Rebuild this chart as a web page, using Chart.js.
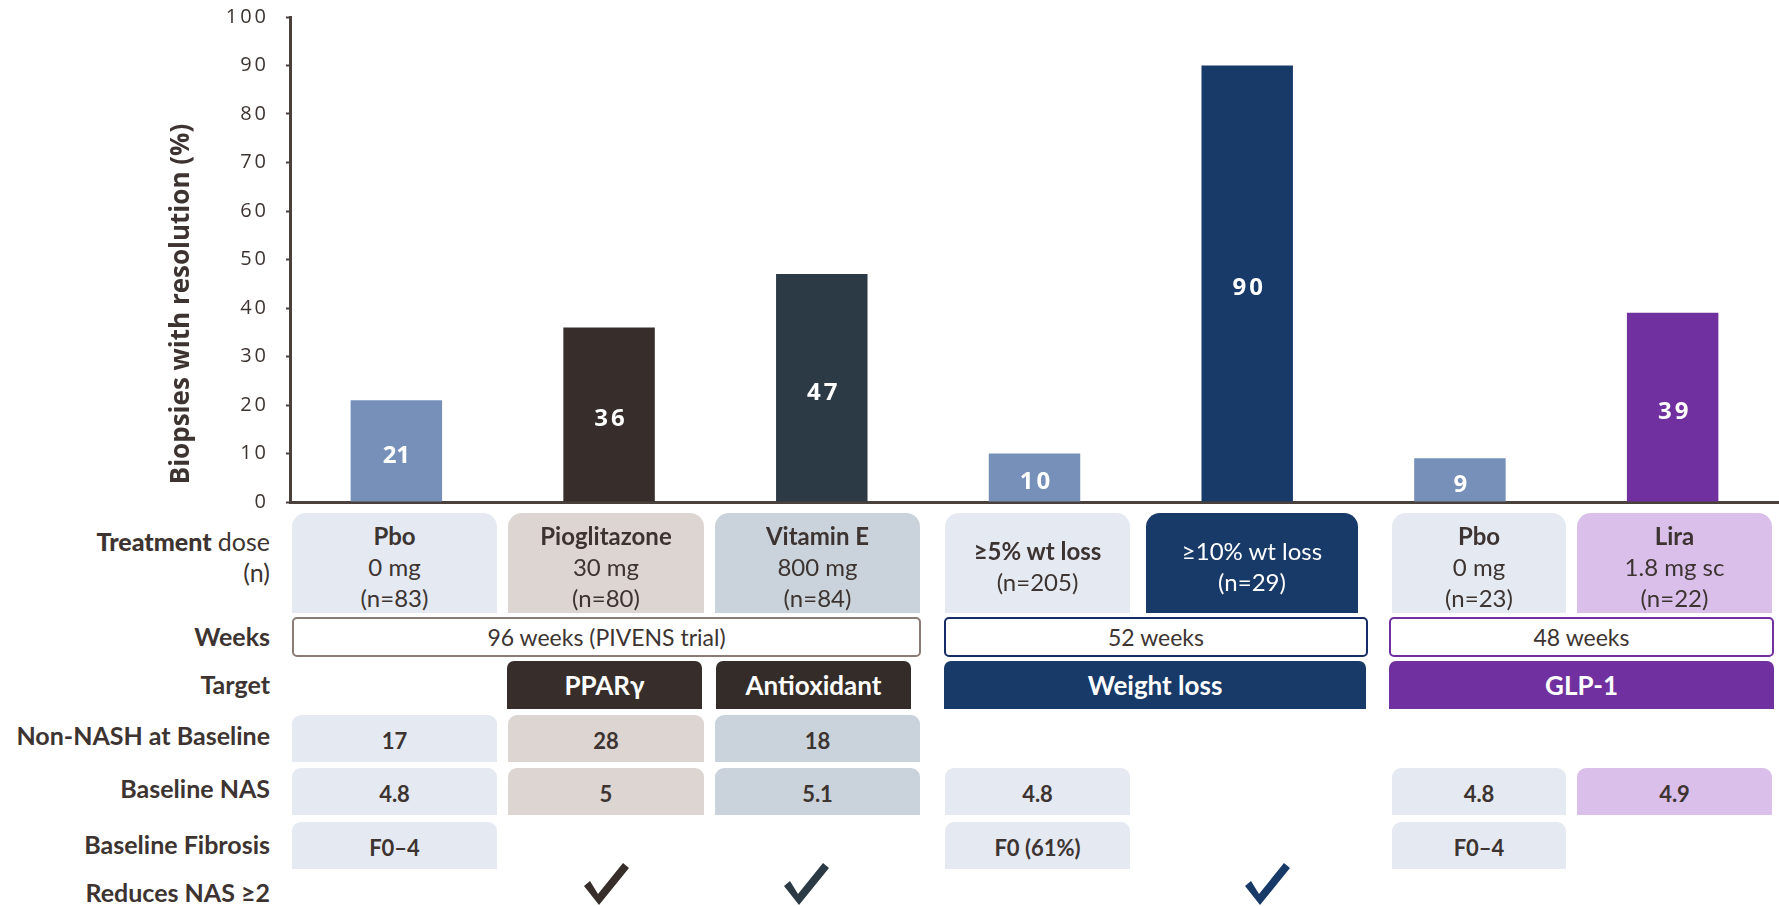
<!DOCTYPE html>
<html>
<head>
<meta charset="utf-8">
<script src="https://cdn.jsdelivr.net/npm/chart.js@4.4.1/dist/chart.umd.min.js"></script>
<style>
  body { margin: 0; background: #fff; }
  #page { position: relative; width: 1779px; height: 906px; overflow: hidden;
          font-family: Lato, "Open Sans", sans-serif; color: #3d3431; }
  #chartBox { position: absolute; left: 0; top: 0; width: 1779px; height: 520px; }
  .box { position: absolute; box-sizing: border-box; display: flex; align-items: center;
         justify-content: center; text-align: center; }
  .rowLabel { position: absolute; left: 0; width: 270px; text-align: right; font-weight: bold;
              font-size: 25px; line-height: 31px; }
  .check { position: absolute; width: 45px; height: 42px; }
</style>
</head>
<body>
<div id="page">
  <div id="chartBox"><canvas id="nashChart"></canvas></div>
</div>
<script>
// bars
const groups = ["Pbo", "Pioglitazone", "Vitamin E", "≥5% wt loss", "≥10% wt loss", "Pbo", "Lira"];
const resolution = [21, 36, 47, 10, 90, 9, 39];
const barColors = ["#7690ba", "#372e2b", "#2c3a45", "#7690ba", "#183a69", "#7690ba", "#7030a0"];
const yTicks = [0, 10, 20, 30, 40, 50, 60, 70, 80, 90, 100];

// table under the bars
const doses = ["0 mg", "30 mg", "800 mg", "", "", "0 mg", "1.8 mg sc"];
const nCounts = ["(n=83)", "(n=80)", "(n=84)", "(n=205)", "(n=29)", "(n=23)", "(n=22)"];
const weeks = ["96 weeks (PIVENS trial)", "52 weeks", "48 weeks"];
const targets = ["", "PPARγ", "Antioxidant", "Weight loss", "GLP-1"];
const nonNash = ["17", "28", "18", "", "", "", ""];
const baselineNas = ["4.8", "5", "5.1", "4.8", "", "4.8", "4.9"];
const baselineFibrosis = ["F0–4", "", "", "F0 (61%)", "", "F0–4", ""];
const reducesNas = [false, true, true, false, true, false, false];
const rowLabels = ["<b>Treatment</b> <span style='font-weight:normal'>dose</span><br><span style='font-weight:normal'>(n)</span>",
  "Weeks", "Target", "Non-NASH at Baseline", "Baseline NAS", "Baseline Fibrosis", "Reduces NAS ≥2"];

// layout (pixels)
const colX = [292, 508, 715, 945, 1146, 1392, 1577];
const colW = [205, 196, 205, 185, 212, 174, 195];
const cellBg = ["#e4e9f2", "#dcd5d2", "#cad3db", "#e4e9f2", "#183a69", "#e4e9f2", "#d9bfea"];
const weekSpans = [[292, 921, "#8a7b75"], [944, 1368, "#152c64"], [1389, 1774, "#7030a0"]];
const targetSpans = [null, [507, 702, "#372e2b"], [716, 911, "#342c29"], [944, 1366, "#183a69"], [1389, 1774, "#7030a0"]];
const checkColors = ["#372e2b", "#372e2b", "#2c3a45", "#183a69", "#183a69", "#7030a0", "#7030a0"];
const checkX = [397, 606, 806, 1034, 1267, 1459, 1673];
const labelY = [526, 621, 669, 720, 773, 829, 877];

const page = document.getElementById("page");

function addBox(left, top, width, height, html, css) {
    const d = document.createElement("div");
    d.className = "box";
    d.style.left = left + "px";
    d.style.top = top + "px";
    d.style.width = width + "px";
    d.style.height = height + "px";
    Object.assign(d.style, css || {});
    d.innerHTML = html;
    page.appendChild(d);
    return d;
}

rowLabels.forEach((txt, i) => {
    const d = document.createElement("div");
    d.className = "rowLabel";
    d.style.top = labelY[i] + "px";
    d.innerHTML = txt;
    page.appendChild(d);
});

// treatment row
groups.forEach((g, i) => {
    const dark = i === 4;
    let html = "<div style='line-height:31px'><b>" + g + "</b>";
    if (doses[i]) html += "<br>" + doses[i];
    html += "<br>" + nCounts[i] + "</div>";
    if (dark) html = html.replace(/<\/?b>/g, "");
    addBox(colX[i], 513, colW[i], 100, html, {
        background: cellBg[i], borderRadius: "14px 14px 0 0", fontSize: "24px",
        color: dark ? "#fff" : "#3d3431", paddingTop: "6px"
    });
});

weekSpans.forEach((s, i) => {
    addBox(s[0], 617, s[1] - s[0], 40, weeks[i], {
        border: "2px solid " + s[2], borderRadius: "5px", fontSize: "23px", background: "#fff"
    });
});

targetSpans.forEach((s, i) => {
    if (!s) return;
    addBox(s[0], 661, s[1] - s[0], 48, targets[i], {
        background: s[2], color: "#fff", fontWeight: "bold", fontSize: "26px",
        borderRadius: "7px 7px 0 0"
    });
});

function valueRow(values, top) {
    values.forEach((v, i) => {
        if (!v) return;
        addBox(colX[i], top, colW[i], 47, v, {
            background: cellBg[i], fontWeight: "bold", fontSize: "22px",
            borderRadius: "9px 9px 0 0", paddingTop: "4px"
        });
    });
}
valueRow(nonNash, 715);
valueRow(baselineNas, 768);
valueRow(baselineFibrosis, 822);

reducesNas.forEach((yes, i) => {
    if (!yes) return;
    const d = document.createElement("div");
    d.className = "check";
    d.style.left = (checkX[i] - 22) + "px";
    d.style.top = "863px";
    d.innerHTML = "<svg width='45' height='42' viewBox='0 0 45 42'><polygon points='0,23 6,18 14,31 39,0 45,5 15,42' fill='" +
        checkColors[i] + "'/></svg>";
    page.appendChild(d);
});

// chart
const spacingPlugin = {
    id: "tickSpacing",
    beforeDraw(chart) { chart.ctx.letterSpacing = "3px"; },
    beforeDatasetsDraw(chart) { chart.ctx.letterSpacing = "0px"; }
};

const valueLabels = {
    id: "valueLabels",
    afterDatasetsDraw(chart) {
        const ctx = chart.ctx;
        const meta = chart.getDatasetMeta(0);
        ctx.save();
        ctx.fillStyle = "#fff";
        ctx.font = "bold 24px 'Open Sans'";
        ctx.textAlign = "center";
        ctx.textBaseline = "middle";
        meta.data.forEach((bar, i) => {
            // the first label is set tighter in the original
            ctx.letterSpacing = i === 0 ? "0px" : "3px";
            const dx = i === 0 ? 0 : 2;
            ctx.fillText(String(resolution[i]), bar.x + dx, (bar.y + bar.base) / 2 + 5);
        });
        ctx.restore();
    }
};

const axisTitle = {
    id: "axisTitle",
    afterDraw(chart) {
        const ctx = chart.ctx;
        ctx.save();
        ctx.letterSpacing = "0px";
        ctx.translate(182, 304);
        ctx.rotate(-Math.PI / 2);
        ctx.fillStyle = "#3d3431";
        ctx.font = "bold 26px 'Open Sans'";
        ctx.textAlign = "center";
        ctx.textBaseline = "middle";
        ctx.fillText("Biopsies with resolution (%)", 0, 0);
        ctx.restore();
    }
};

new Chart(document.getElementById("nashChart").getContext("2d"), {
    type: "bar",
    data: {
        labels: groups,
        datasets: [{
            data: resolution,
            backgroundColor: barColors,
            barPercentage: 0.43,
            categoryPercentage: 1
        }]
    },
    options: {
        responsive: true,
        maintainAspectRatio: false,
        animation: false,
        layout: { padding: { top: 17, bottom: 18, left: 0, right: 0 } },
        plugins: { legend: { display: false }, tooltip: { enabled: false } },
        scales: {
            x: {
                grid: { display: false, drawTicks: false },
                ticks: { display: false },
                border: { color: "#4a403c", width: 3 },
                afterFit: s => { s.height = 0; }
            },
            y: {
                min: 0,
                max: 100,
                afterBuildTicks: s => { s.ticks = yTicks.map(v => ({ value: v })); },
                ticks: { padding: 17, color: "#3d3431", font: { family: "Open Sans", size: 20 } },
                grid: { drawOnChartArea: false, drawTicks: true, tickLength: 4, tickWidth: 2, tickColor: "#4a403c" },
                border: { color: "#4a403c", width: 3 },
                afterFit: s => { s.width = 290; s.paddingTop = 0; s.paddingBottom = 0; }
            }
        }
    },
    plugins: [spacingPlugin, valueLabels, axisTitle]
});
</script>
</body>
</html>
